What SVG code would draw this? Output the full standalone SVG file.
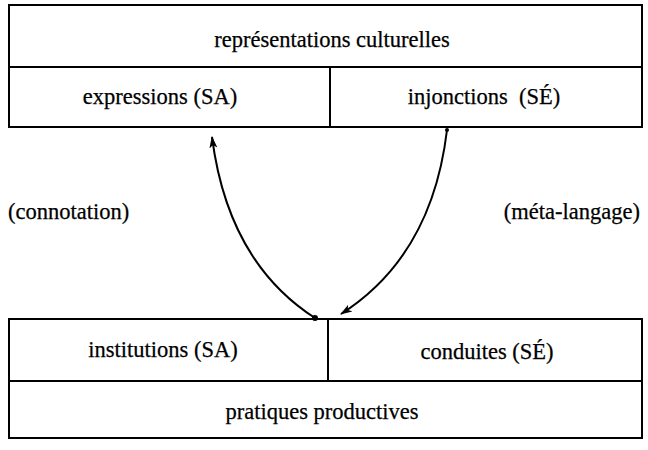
<svg xmlns="http://www.w3.org/2000/svg" width="648" height="450" viewBox="0 0 648 450">
<style>
.box{fill:none;stroke:#000;stroke-width:2}
text{font-family:"Liberation Serif","Times New Roman",serif;font-size:22.5px;fill:#000;stroke:#000;stroke-width:0.25}
.c{text-anchor:middle}
.arr{fill:none;stroke:#000;stroke-width:2}
</style>
<defs>
<marker id="ah" viewBox="0 0 12 10" refX="11" refY="5" markerWidth="12" markerHeight="10" markerUnits="userSpaceOnUse" orient="auto">
<path d="M0,1 L12,5 L0,9 L3,5 z" fill="#000"/>
</marker>
</defs>
<rect width="648" height="450" fill="#fff"/>
<g id="representations">
<rect class="box" x="9" y="5" width="633" height="62"/>
<text class="c" x="332" y="47">représentations culturelles</text>
</g>
<g id="expressions">
<rect class="box" x="9" y="67" width="321" height="60"/>
<text class="c" x="160" y="104">expressions (SA)</text>
</g>
<g id="injonctions">
<rect class="box" x="330" y="67" width="312" height="60"/>
<text class="c" x="484" y="104" xml:space="preserve">injonctions  (SÉ)</text>
</g>
<g id="institutions">
<rect class="box" x="9" y="319" width="319" height="62"/>
<text class="c" x="163" y="357">institutions (SA)</text>
</g>
<g id="conduites">
<rect class="box" x="328" y="319" width="314" height="62"/>
<text class="c" x="487" y="359">conduites (SÉ)</text>
</g>
<g id="pratiques">
<rect class="box" x="9" y="381" width="633" height="57"/>
<text class="c" x="322" y="419">pratiques productives</text>
</g>
<g id="connotation"><text x="8" y="219">(connotation)</text></g>
<g id="meta"><text x="640" y="219" text-anchor="end">(méta-langage)</text></g>
<g id="connectors">
<path class="arr" d="M315,318 Q228,262 212,137" marker-end="url(#ah)"/>
<circle cx="315" cy="318" r="3" fill="#000"/>
<path class="arr" d="M447,130 Q432,256 341,314" marker-end="url(#ah)"/>
<circle cx="447" cy="130" r="2" fill="#000"/>
</g>
</svg>
